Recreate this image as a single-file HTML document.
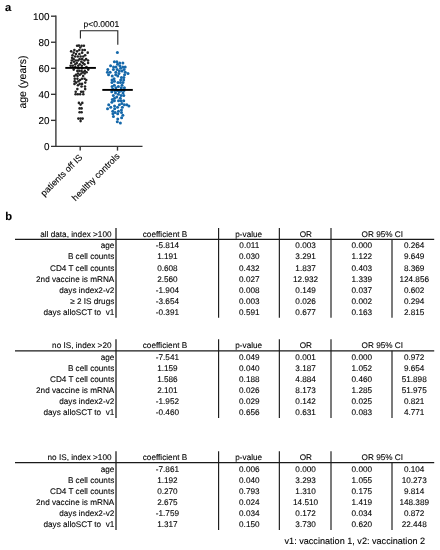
<!DOCTYPE html>
<html><head><meta charset="utf-8"><title>Figure</title>
<style>
html,body{margin:0;padding:0;background:#fff;}
body{width:440px;height:550px;overflow:hidden;position:relative;}
svg{position:absolute;left:0;top:0;display:block;will-change:transform;}
svg text{text-rendering:geometricPrecision;font-family:"Liberation Sans", sans-serif;fill:#000;stroke:#000;stroke-width:0.1px;}
.tb text{font-size:8.2px;}
</style></head>
<body>
<svg width="440" height="550" viewBox="0 0 440 550">
<rect width="440" height="550" fill="#fff"/>
<g class="ch">
<text x="5" y="10.8" font-size="11.2" font-weight="bold">a</text>
<g stroke="#333" stroke-width="1.35" fill="none">
<line x1="55.9" y1="15.6" x2="55.9" y2="147"/>
<line x1="51" y1="146.4" x2="142.5" y2="146.4"/>
<line x1="51" y1="120.36" x2="55.9" y2="120.36"/>
<line x1="51" y1="94.32" x2="55.9" y2="94.32"/>
<line x1="51" y1="68.28" x2="55.9" y2="68.28"/>
<line x1="51" y1="42.24" x2="55.9" y2="42.24"/>
<line x1="51" y1="16.20" x2="55.9" y2="16.20"/>
<line x1="80.2" y1="146.4" x2="80.2" y2="150.6"/>
<line x1="117.5" y1="146.4" x2="117.5" y2="150.6"/>
</g>
<text x="49.6" y="149.90" font-size="9.9" text-anchor="end">0</text>
<text x="49.6" y="123.86" font-size="9.9" text-anchor="end">20</text>
<text x="49.6" y="97.82" font-size="9.9" text-anchor="end">40</text>
<text x="49.6" y="71.78" font-size="9.9" text-anchor="end">60</text>
<text x="49.6" y="45.74" font-size="9.9" text-anchor="end">80</text>
<text x="49.6" y="19.70" font-size="9.9" text-anchor="end">100</text>
<text transform="translate(25.9,108.6) rotate(-90)" font-size="10.5">age (years)</text>
<text transform="translate(83,158) rotate(-45)" font-size="9" text-anchor="end">patients off IS</text>
<text transform="translate(120.2,156.8) rotate(-45)" font-size="9" text-anchor="end">healthy controls</text>
<path d="M80.4 38.6 V30.8 H117.8 V44.8" stroke="#222" stroke-width="1.1" fill="none"/>
<text x="101.4" y="26.9" font-size="8.5" text-anchor="middle">p&lt;0.0001</text>
<g fill="#222"><circle cx="77.10" cy="45.80" r="1.3"/><circle cx="78.90" cy="45.60" r="1.3"/><circle cx="81.60" cy="45.70" r="1.3"/><circle cx="83.90" cy="45.80" r="1.3"/><circle cx="80.30" cy="47.50" r="1.3"/><circle cx="78.90" cy="102.90" r="1.3"/><circle cx="82.30" cy="102.90" r="1.3"/><circle cx="80.60" cy="104.60" r="1.3"/><circle cx="79.60" cy="108.40" r="1.3"/><circle cx="81.60" cy="108.40" r="1.3"/><circle cx="79.60" cy="112.30" r="1.3"/><circle cx="81.60" cy="112.30" r="1.3"/><circle cx="78.40" cy="118.60" r="1.3"/><circle cx="80.60" cy="118.60" r="1.3"/><circle cx="82.60" cy="118.60" r="1.3"/><circle cx="80.60" cy="121.10" r="1.3"/><circle cx="75.99" cy="74.79" r="1.3"/><circle cx="72.53" cy="55.26" r="1.3"/><circle cx="80.19" cy="94.32" r="1.3"/><circle cx="83.15" cy="76.09" r="1.3"/><circle cx="79.33" cy="50.05" r="1.3"/><circle cx="76.25" cy="82.60" r="1.3"/><circle cx="71.17" cy="51.35" r="1.3"/><circle cx="85.17" cy="89.11" r="1.3"/><circle cx="75.72" cy="91.72" r="1.3"/><circle cx="83.17" cy="72.19" r="1.3"/><circle cx="88.09" cy="63.07" r="1.3"/><circle cx="81.32" cy="61.77" r="1.3"/><circle cx="86.11" cy="59.17" r="1.3"/><circle cx="78.04" cy="60.47" r="1.3"/><circle cx="78.23" cy="65.68" r="1.3"/><circle cx="78.38" cy="81.30" r="1.3"/><circle cx="85.17" cy="55.26" r="1.3"/><circle cx="71.75" cy="60.47" r="1.3"/><circle cx="83.17" cy="91.72" r="1.3"/><circle cx="76.75" cy="63.07" r="1.3"/><circle cx="86.58" cy="72.19" r="1.3"/><circle cx="73.71" cy="69.58" r="1.3"/><circle cx="74.39" cy="50.05" r="1.3"/><circle cx="75.93" cy="60.47" r="1.3"/><circle cx="84.99" cy="86.51" r="1.3"/><circle cx="82.13" cy="52.66" r="1.3"/><circle cx="79.74" cy="74.79" r="1.3"/><circle cx="82.18" cy="68.28" r="1.3"/><circle cx="82.05" cy="83.90" r="1.3"/><circle cx="84.60" cy="78.70" r="1.3"/><circle cx="79.40" cy="70.88" r="1.3"/><circle cx="87.72" cy="52.66" r="1.3"/><circle cx="77.38" cy="70.88" r="1.3"/><circle cx="77.98" cy="85.21" r="1.3"/><circle cx="84.75" cy="50.05" r="1.3"/><circle cx="72.75" cy="65.68" r="1.3"/><circle cx="74.49" cy="83.90" r="1.3"/><circle cx="83.31" cy="94.32" r="1.3"/><circle cx="73.68" cy="52.66" r="1.3"/><circle cx="71.23" cy="63.07" r="1.3"/><circle cx="82.19" cy="59.17" r="1.3"/><circle cx="75.16" cy="56.56" r="1.3"/><circle cx="73.64" cy="59.17" r="1.3"/><circle cx="77.81" cy="94.32" r="1.3"/><circle cx="81.15" cy="91.72" r="1.3"/><circle cx="88.03" cy="60.47" r="1.3"/><circle cx="84.41" cy="60.47" r="1.3"/><circle cx="73.97" cy="61.77" r="1.3"/><circle cx="84.83" cy="70.88" r="1.3"/><circle cx="85.26" cy="82.60" r="1.3"/><circle cx="77.97" cy="73.49" r="1.3"/><circle cx="88.22" cy="69.58" r="1.3"/><circle cx="86.44" cy="66.98" r="1.3"/><circle cx="75.32" cy="66.98" r="1.3"/><circle cx="79.39" cy="53.96" r="1.3"/><circle cx="81.99" cy="78.70" r="1.3"/><circle cx="81.81" cy="65.68" r="1.3"/><circle cx="75.97" cy="53.96" r="1.3"/><circle cx="74.68" cy="81.30" r="1.3"/><circle cx="83.30" cy="56.56" r="1.3"/><circle cx="81.53" cy="86.51" r="1.3"/><circle cx="77.36" cy="89.11" r="1.3"/><circle cx="77.10" cy="51.35" r="1.3"/><circle cx="80.61" cy="56.56" r="1.3"/><circle cx="79.75" cy="64.37" r="1.3"/><circle cx="80.10" cy="80.00" r="1.3"/><circle cx="77.82" cy="56.56" r="1.3"/><circle cx="78.44" cy="68.28" r="1.3"/><circle cx="72.12" cy="57.86" r="1.3"/><circle cx="77.41" cy="78.70" r="1.3"/><circle cx="81.54" cy="70.88" r="1.3"/><circle cx="74.78" cy="78.70" r="1.3"/><circle cx="79.71" cy="83.90" r="1.3"/><circle cx="84.45" cy="64.37" r="1.3"/><circle cx="81.36" cy="73.49" r="1.3"/><circle cx="84.70" cy="73.49" r="1.3"/><circle cx="75.59" cy="94.32" r="1.3"/><circle cx="75.20" cy="64.37" r="1.3"/><circle cx="77.55" cy="76.09" r="1.3"/><circle cx="82.54" cy="50.05" r="1.3"/><circle cx="86.19" cy="80.00" r="1.3"/><circle cx="70.65" cy="65.68" r="1.3"/><circle cx="79.59" cy="59.17" r="1.3"/><circle cx="74.42" cy="76.09" r="1.3"/><circle cx="82.88" cy="63.07" r="1.3"/></g>
<g fill="#1568aa"><circle cx="117.40" cy="52.40" r="1.5"/><circle cx="116.76" cy="96.92" r="1.5"/><circle cx="117.76" cy="119.06" r="1.5"/><circle cx="113.43" cy="116.45" r="1.5"/><circle cx="121.28" cy="87.81" r="1.5"/><circle cx="112.23" cy="76.09" r="1.5"/><circle cx="119.40" cy="104.74" r="1.5"/><circle cx="118.48" cy="111.25" r="1.5"/><circle cx="114.34" cy="85.21" r="1.5"/><circle cx="120.58" cy="68.28" r="1.5"/><circle cx="110.59" cy="65.68" r="1.5"/><circle cx="119.86" cy="65.68" r="1.5"/><circle cx="118.35" cy="86.51" r="1.5"/><circle cx="117.31" cy="121.66" r="1.5"/><circle cx="115.82" cy="72.19" r="1.5"/><circle cx="117.99" cy="82.60" r="1.5"/><circle cx="121.50" cy="112.55" r="1.5"/><circle cx="123.74" cy="100.83" r="1.5"/><circle cx="125.21" cy="66.98" r="1.5"/><circle cx="107.80" cy="69.58" r="1.5"/><circle cx="116.00" cy="66.98" r="1.5"/><circle cx="117.24" cy="90.41" r="1.5"/><circle cx="110.74" cy="107.34" r="1.5"/><circle cx="113.31" cy="95.62" r="1.5"/><circle cx="118.38" cy="94.32" r="1.5"/><circle cx="114.36" cy="61.77" r="1.5"/><circle cx="111.96" cy="82.60" r="1.5"/><circle cx="114.39" cy="100.83" r="1.5"/><circle cx="122.89" cy="63.07" r="1.5"/><circle cx="115.48" cy="93.02" r="1.5"/><circle cx="121.09" cy="95.62" r="1.5"/><circle cx="124.11" cy="69.58" r="1.5"/><circle cx="117.50" cy="64.37" r="1.5"/><circle cx="114.66" cy="108.64" r="1.5"/><circle cx="119.72" cy="63.07" r="1.5"/><circle cx="124.58" cy="74.79" r="1.5"/><circle cx="114.56" cy="106.04" r="1.5"/><circle cx="122.03" cy="85.21" r="1.5"/><circle cx="120.68" cy="80.00" r="1.5"/><circle cx="123.66" cy="80.00" r="1.5"/><circle cx="117.68" cy="113.85" r="1.5"/><circle cx="123.02" cy="93.02" r="1.5"/><circle cx="108.70" cy="104.74" r="1.5"/><circle cx="121.44" cy="77.39" r="1.5"/><circle cx="122.98" cy="82.60" r="1.5"/><circle cx="114.45" cy="81.30" r="1.5"/><circle cx="122.36" cy="107.34" r="1.5"/><circle cx="126.79" cy="104.74" r="1.5"/><circle cx="119.27" cy="91.72" r="1.5"/><circle cx="113.39" cy="69.58" r="1.5"/><circle cx="117.80" cy="76.09" r="1.5"/><circle cx="123.85" cy="77.39" r="1.5"/><circle cx="111.83" cy="102.13" r="1.5"/><circle cx="114.77" cy="90.41" r="1.5"/><circle cx="118.52" cy="100.83" r="1.5"/><circle cx="120.31" cy="98.23" r="1.5"/><circle cx="115.11" cy="112.55" r="1.5"/><circle cx="121.62" cy="117.76" r="1.5"/><circle cx="120.38" cy="122.96" r="1.5"/><circle cx="117.55" cy="107.34" r="1.5"/><circle cx="114.07" cy="78.70" r="1.5"/><circle cx="116.87" cy="61.77" r="1.5"/><circle cx="121.88" cy="103.43" r="1.5"/><circle cx="112.12" cy="86.51" r="1.5"/><circle cx="115.88" cy="87.81" r="1.5"/><circle cx="121.42" cy="109.94" r="1.5"/><circle cx="125.28" cy="72.19" r="1.5"/><circle cx="107.53" cy="108.64" r="1.5"/><circle cx="114.51" cy="98.23" r="1.5"/><circle cx="110.14" cy="72.19" r="1.5"/><circle cx="123.98" cy="90.41" r="1.5"/><circle cx="122.03" cy="70.88" r="1.5"/><circle cx="111.76" cy="91.72" r="1.5"/><circle cx="117.20" cy="69.58" r="1.5"/><circle cx="113.59" cy="66.98" r="1.5"/><circle cx="108.55" cy="74.79" r="1.5"/><circle cx="112.66" cy="89.11" r="1.5"/><circle cx="118.91" cy="73.49" r="1.5"/><circle cx="124.38" cy="87.81" r="1.5"/><circle cx="112.77" cy="111.25" r="1.5"/><circle cx="121.08" cy="100.83" r="1.5"/><circle cx="127.98" cy="73.49" r="1.5"/><circle cx="115.69" cy="74.79" r="1.5"/><circle cx="122.76" cy="66.98" r="1.5"/><circle cx="124.38" cy="104.74" r="1.5"/><circle cx="112.32" cy="99.53" r="1.5"/><circle cx="112.92" cy="113.85" r="1.5"/><circle cx="122.85" cy="115.15" r="1.5"/><circle cx="119.34" cy="70.88" r="1.5"/><circle cx="107.40" cy="72.19" r="1.5"/><circle cx="121.41" cy="90.41" r="1.5"/><circle cx="120.46" cy="82.60" r="1.5"/><circle cx="112.02" cy="80.00" r="1.5"/><circle cx="128.85" cy="106.04" r="1.5"/><circle cx="123.73" cy="95.62" r="1.5"/></g>
<line x1="65.3" y1="67.9" x2="95.9" y2="67.9" stroke="#000" stroke-width="1.9"/>
<line x1="102.3" y1="89.9" x2="132.8" y2="89.9" stroke="#000" stroke-width="1.9"/>
<text x="5.2" y="220" font-size="11.2" font-weight="bold">b</text>
<text x="425.1" y="544.2" font-size="9.1" text-anchor="end">v1: vaccination 1, v2: vaccination 2</text>
</g>
<g class="tb">
<line x1="15" y1="239.4" x2="434.2" y2="239.4" stroke="#1a1a1a" stroke-width="1.2"/>
<line x1="116.0" y1="227.90" x2="116.0" y2="317.85" stroke="#1a1a1a" stroke-width="1.25"/>
<line x1="218.6" y1="227.90" x2="218.6" y2="317.85" stroke="#1a1a1a" stroke-width="1.15"/>
<line x1="279.35" y1="227.90" x2="279.35" y2="317.85" stroke="#1a1a1a" stroke-width="1.15"/>
<line x1="331.0" y1="227.90" x2="331.0" y2="317.85" stroke="#1a1a1a" stroke-width="1.15"/>
<line x1="392.0" y1="239.40" x2="392.0" y2="317.85" stroke="#1a1a1a" stroke-width="1.15"/>
<text x="111.5" y="236.70" text-anchor="end">all data, index >100</text>
<text x="165" y="236.70" text-anchor="middle">coefficient B</text>
<text x="248.7" y="236.70" text-anchor="middle">p-value</text>
<text x="305.9" y="236.70" text-anchor="middle">OR</text>
<text x="382.3" y="236.70" text-anchor="middle">OR 95% CI</text>
<text x="114.3" y="248.20" text-anchor="end">age</text>
<text x="167.4" y="248.20" text-anchor="middle">-5.814</text>
<text x="249.3" y="248.20" text-anchor="middle">0.011</text>
<text x="305.6" y="248.20" text-anchor="middle">0.003</text>
<text x="361.8" y="248.20" text-anchor="middle">0.000</text>
<text x="414.2" y="248.20" text-anchor="middle">0.264</text>
<text x="114.3" y="259.35" text-anchor="end">B cell counts</text>
<text x="167.4" y="259.35" text-anchor="middle">1.191</text>
<text x="249.3" y="259.35" text-anchor="middle">0.030</text>
<text x="305.6" y="259.35" text-anchor="middle">3.291</text>
<text x="361.8" y="259.35" text-anchor="middle">1.122</text>
<text x="414.2" y="259.35" text-anchor="middle">9.649</text>
<text x="114.3" y="270.50" text-anchor="end">CD4 T cell counts</text>
<text x="167.4" y="270.50" text-anchor="middle">0.608</text>
<text x="249.3" y="270.50" text-anchor="middle">0.432</text>
<text x="305.6" y="270.50" text-anchor="middle">1.837</text>
<text x="361.8" y="270.50" text-anchor="middle">0.403</text>
<text x="414.2" y="270.50" text-anchor="middle">8.369</text>
<text x="114.3" y="281.65" text-anchor="end">2nd vaccine is mRNA</text>
<text x="167.4" y="281.65" text-anchor="middle">2.560</text>
<text x="249.3" y="281.65" text-anchor="middle">0.027</text>
<text x="305.6" y="281.65" text-anchor="middle">12.932</text>
<text x="361.8" y="281.65" text-anchor="middle">1.339</text>
<text x="414.2" y="281.65" text-anchor="middle">124.856</text>
<text x="114.3" y="292.80" text-anchor="end">days index2-v2</text>
<text x="167.4" y="292.80" text-anchor="middle">-1.904</text>
<text x="249.3" y="292.80" text-anchor="middle">0.008</text>
<text x="305.6" y="292.80" text-anchor="middle">0.149</text>
<text x="361.8" y="292.80" text-anchor="middle">0.037</text>
<text x="414.2" y="292.80" text-anchor="middle">0.602</text>
<text x="114.3" y="303.95" text-anchor="end">≥ 2 IS drugs</text>
<text x="167.4" y="303.95" text-anchor="middle">-3.654</text>
<text x="249.3" y="303.95" text-anchor="middle">0.003</text>
<text x="305.6" y="303.95" text-anchor="middle">0.026</text>
<text x="361.8" y="303.95" text-anchor="middle">0.002</text>
<text x="414.2" y="303.95" text-anchor="middle">0.294</text>
<text x="114.3" y="315.10" text-anchor="end">days alloSCT to  v1</text>
<text x="167.4" y="315.10" text-anchor="middle">-0.391</text>
<text x="249.3" y="315.10" text-anchor="middle">0.591</text>
<text x="305.6" y="315.10" text-anchor="middle">0.677</text>
<text x="361.8" y="315.10" text-anchor="middle">0.163</text>
<text x="414.2" y="315.10" text-anchor="middle">2.815</text>
<line x1="15" y1="350.8" x2="434.2" y2="350.8" stroke="#1a1a1a" stroke-width="1.2"/>
<line x1="116.0" y1="339.30" x2="116.0" y2="418.10" stroke="#1a1a1a" stroke-width="1.25"/>
<line x1="218.6" y1="339.30" x2="218.6" y2="418.10" stroke="#1a1a1a" stroke-width="1.15"/>
<line x1="279.35" y1="339.30" x2="279.35" y2="418.10" stroke="#1a1a1a" stroke-width="1.15"/>
<line x1="331.0" y1="339.30" x2="331.0" y2="418.10" stroke="#1a1a1a" stroke-width="1.15"/>
<line x1="392.0" y1="350.80" x2="392.0" y2="418.10" stroke="#1a1a1a" stroke-width="1.15"/>
<text x="111.5" y="348.10" text-anchor="end">no IS, index >20</text>
<text x="165" y="348.10" text-anchor="middle">coefficient B</text>
<text x="248.7" y="348.10" text-anchor="middle">p-value</text>
<text x="305.9" y="348.10" text-anchor="middle">OR</text>
<text x="382.3" y="348.10" text-anchor="middle">OR 95% CI</text>
<text x="114.3" y="359.60" text-anchor="end">age</text>
<text x="167.4" y="359.60" text-anchor="middle">-7.541</text>
<text x="249.3" y="359.60" text-anchor="middle">0.049</text>
<text x="305.6" y="359.60" text-anchor="middle">0.001</text>
<text x="361.8" y="359.60" text-anchor="middle">0.000</text>
<text x="414.2" y="359.60" text-anchor="middle">0.972</text>
<text x="114.3" y="370.75" text-anchor="end">B cell counts</text>
<text x="167.4" y="370.75" text-anchor="middle">1.159</text>
<text x="249.3" y="370.75" text-anchor="middle">0.040</text>
<text x="305.6" y="370.75" text-anchor="middle">3.187</text>
<text x="361.8" y="370.75" text-anchor="middle">1.052</text>
<text x="414.2" y="370.75" text-anchor="middle">9.654</text>
<text x="114.3" y="381.90" text-anchor="end">CD4 T cell counts</text>
<text x="167.4" y="381.90" text-anchor="middle">1.586</text>
<text x="249.3" y="381.90" text-anchor="middle">0.188</text>
<text x="305.6" y="381.90" text-anchor="middle">4.884</text>
<text x="361.8" y="381.90" text-anchor="middle">0.460</text>
<text x="414.2" y="381.90" text-anchor="middle">51.898</text>
<text x="114.3" y="393.05" text-anchor="end">2nd vaccine is mRNA</text>
<text x="167.4" y="393.05" text-anchor="middle">2.101</text>
<text x="249.3" y="393.05" text-anchor="middle">0.026</text>
<text x="305.6" y="393.05" text-anchor="middle">8.173</text>
<text x="361.8" y="393.05" text-anchor="middle">1.285</text>
<text x="414.2" y="393.05" text-anchor="middle">51.975</text>
<text x="114.3" y="404.20" text-anchor="end">days index2-v2</text>
<text x="167.4" y="404.20" text-anchor="middle">-1.952</text>
<text x="249.3" y="404.20" text-anchor="middle">0.029</text>
<text x="305.6" y="404.20" text-anchor="middle">0.142</text>
<text x="361.8" y="404.20" text-anchor="middle">0.025</text>
<text x="414.2" y="404.20" text-anchor="middle">0.821</text>
<text x="114.3" y="415.35" text-anchor="end">days alloSCT to  v1</text>
<text x="167.4" y="415.35" text-anchor="middle">-0.460</text>
<text x="249.3" y="415.35" text-anchor="middle">0.656</text>
<text x="305.6" y="415.35" text-anchor="middle">0.631</text>
<text x="361.8" y="415.35" text-anchor="middle">0.083</text>
<text x="414.2" y="415.35" text-anchor="middle">4.771</text>
<line x1="15" y1="462.7" x2="434.2" y2="462.7" stroke="#1a1a1a" stroke-width="1.2"/>
<line x1="116.0" y1="451.20" x2="116.0" y2="530.00" stroke="#1a1a1a" stroke-width="1.25"/>
<line x1="218.6" y1="451.20" x2="218.6" y2="530.00" stroke="#1a1a1a" stroke-width="1.15"/>
<line x1="279.35" y1="451.20" x2="279.35" y2="530.00" stroke="#1a1a1a" stroke-width="1.15"/>
<line x1="331.0" y1="451.20" x2="331.0" y2="530.00" stroke="#1a1a1a" stroke-width="1.15"/>
<line x1="392.0" y1="462.70" x2="392.0" y2="530.00" stroke="#1a1a1a" stroke-width="1.15"/>
<text x="111.5" y="460.00" text-anchor="end">no IS, index >100</text>
<text x="165" y="460.00" text-anchor="middle">coefficient B</text>
<text x="248.7" y="460.00" text-anchor="middle">p-value</text>
<text x="305.9" y="460.00" text-anchor="middle">OR</text>
<text x="382.3" y="460.00" text-anchor="middle">OR 95% CI</text>
<text x="114.3" y="471.50" text-anchor="end">age</text>
<text x="167.4" y="471.50" text-anchor="middle">-7.861</text>
<text x="249.3" y="471.50" text-anchor="middle">0.006</text>
<text x="305.6" y="471.50" text-anchor="middle">0.000</text>
<text x="361.8" y="471.50" text-anchor="middle">0.000</text>
<text x="414.2" y="471.50" text-anchor="middle">0.104</text>
<text x="114.3" y="482.65" text-anchor="end">B cell counts</text>
<text x="167.4" y="482.65" text-anchor="middle">1.192</text>
<text x="249.3" y="482.65" text-anchor="middle">0.040</text>
<text x="305.6" y="482.65" text-anchor="middle">3.293</text>
<text x="361.8" y="482.65" text-anchor="middle">1.055</text>
<text x="414.2" y="482.65" text-anchor="middle">10.273</text>
<text x="114.3" y="493.80" text-anchor="end">CD4 T cell counts</text>
<text x="167.4" y="493.80" text-anchor="middle">0.270</text>
<text x="249.3" y="493.80" text-anchor="middle">0.793</text>
<text x="305.6" y="493.80" text-anchor="middle">1.310</text>
<text x="361.8" y="493.80" text-anchor="middle">0.175</text>
<text x="414.2" y="493.80" text-anchor="middle">9.814</text>
<text x="114.3" y="504.95" text-anchor="end">2nd vaccine is mRNA</text>
<text x="167.4" y="504.95" text-anchor="middle">2.675</text>
<text x="249.3" y="504.95" text-anchor="middle">0.024</text>
<text x="305.6" y="504.95" text-anchor="middle">14.510</text>
<text x="361.8" y="504.95" text-anchor="middle">1.419</text>
<text x="414.2" y="504.95" text-anchor="middle">148.389</text>
<text x="114.3" y="516.10" text-anchor="end">days index2-v2</text>
<text x="167.4" y="516.10" text-anchor="middle">-1.759</text>
<text x="249.3" y="516.10" text-anchor="middle">0.034</text>
<text x="305.6" y="516.10" text-anchor="middle">0.172</text>
<text x="361.8" y="516.10" text-anchor="middle">0.034</text>
<text x="414.2" y="516.10" text-anchor="middle">0.872</text>
<text x="114.3" y="527.25" text-anchor="end">days alloSCT to  v1</text>
<text x="167.4" y="527.25" text-anchor="middle">1.317</text>
<text x="249.3" y="527.25" text-anchor="middle">0.150</text>
<text x="305.6" y="527.25" text-anchor="middle">3.730</text>
<text x="361.8" y="527.25" text-anchor="middle">0.620</text>
<text x="414.2" y="527.25" text-anchor="middle">22.448</text>
</g>
</svg>
</body></html>
